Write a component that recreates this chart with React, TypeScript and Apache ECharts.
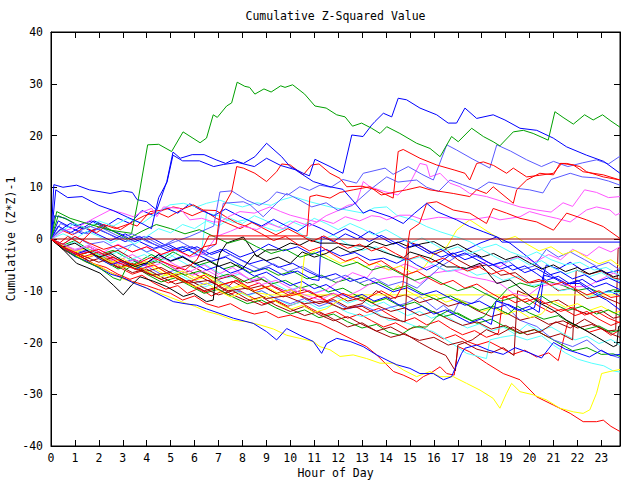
import React, { useEffect, useRef } from "react";
import * as echarts from "echarts";

const TITLE = "Cumulative Z-Squared Value";
const X_NAME = "Hour of Day";
const Y_NAME = "Cumulative (Z*Z)-1";
const X_MIN = 0;
const X_MAX = 23.78;
const Y_MIN = -40;
const Y_MAX = 40;

const RED = "#ff0000";
const GREEN = "#00a000";
const BLUE = "#0000ff";
const MAGENTA = "#ff55ff";
const CYAN = "#55ffff";
const YELLOW = "#ffff00";
const BLACK = "#000000";
const MAROON = "#a00000";
const LIGHTBLUE = "#5a5aff";

const g1 = [[0,0],[0.24,5.3],[0.8,4],[1.5,3],[2.47,1.7],[3.37,1.1],[3.64,7.5],[4.04,18.2],[4.5,18.3],[5.04,16.9],[5.52,20.7],[6.23,18.6],[6.5,19.5],[6.78,24],[6.95,23.5],[7.34,25.7],[7.55,26.3],[7.78,30.3],[8.1,29.5],[8.3,29.3],[8.52,28],[8.9,29],[9.2,28.4],[9.6,29.6],[9.78,29.3],[10.1,29.8],[10.6,28],[11.03,25.7],[11.5,25.3],[11.94,24],[12.29,23.6],[12.6,21.8],[12.98,22.4],[13.4,21.4],[13.75,20.4],[14.03,21.7],[14.58,20.4],[15.28,18.5],[15.84,17.5],[16.26,15.9],[16.74,19.8],[17.02,18.8],[17.58,21.4],[18.07,19.8],[18.48,18.8],[18.76,18],[19.32,20.7],[19.74,21],[20.15,20.4],[20.78,19.1],[21.06,24.6],[21.4,23.5],[21.83,22.2],[22.3,24],[22.66,23],[23.05,24],[23.4,22.8],[23.78,21.6]];
const g2 = [[0,0],[0.5,-1.2],[1,-0.3],[1.5,-1.8],[2,-3],[2.6,-2.2],[3.2,-3.7],[3.8,-5],[4.4,-4.2],[5,-5.7],[5.6,-7],[6.2,-6.2],[6.8,-7.6],[7.4,-6.8],[8,-8.3],[8.6,-7.2],[9.2,-8.7],[9.8,-8],[10.4,-9.5],[11,-8.7],[11.6,-10.2],[12.2,-9.5],[12.8,-11],[13.4,-12.3],[14,-11.5],[14.6,-13],[15.2,-12.2],[15.8,-13.7],[16.4,-15],[17,-14.3],[17.6,-15.8],[18.1,-15],[18.6,-12],[19.1,-9.5],[19.6,-8.5],[20.2,-9.3],[20.8,-8.2],[21.4,-9],[21.9,-10],[22.5,-9.5],[23,-10.5],[23.5,-9.8],[23.78,-10]];
const g3 = [[0,0],[0.5,-1.8],[1,-3.3],[1.6,-2.5],[2.2,-4.2],[2.8,-5.8],[3.4,-5],[4,-6.8],[4.6,-8.3],[5.2,-7.5],[5.8,-9],[6.4,-10.5],[7,-9.7],[7.6,-11.2],[8.2,-12.5],[8.8,-11.8],[9.4,-13.3],[10,-14.5],[10.6,-13.7],[11.2,-15.2],[11.8,-14.5],[12.4,-16],[13,-17.2],[13.6,-16.5],[14.1,-18],[14.58,-18.6],[15.14,-17],[15.7,-17],[16.12,-15],[16.67,-13.7],[17.2,-15],[17.8,-16.3],[18.4,-15.5],[19,-17],[19.6,-18.3],[20.2,-17.5],[20.8,-19],[21.3,-20.3],[21.8,-21.6],[22.4,-21],[23,-22.3],[23.5,-22.2],[23.78,-22.7]];
const g4 = [[0,0],[0.4,-1.5],[0.9,-3],[1.4,-4.3],[2,-5.5],[2.6,-7.5],[2.9,-8],[3.1,-6],[3.6,-4.5],[4.2,-3],[4.6,-4],[5.1,-2.5],[5.6,-3.7],[6.2,-5],[6.7,-4.3],[7.2,-5.8],[7.8,-5],[8.3,-6.5],[8.9,-5.6],[9.5,-7],[10.1,-6.2],[10.7,-7.7],[11.3,-7],[11.9,-8.4],[12.5,-7.6],[13.1,-9],[13.7,-8.3],[14.3,-9.8],[14.9,-9],[15.5,-10.5],[16.1,-11.7],[16.7,-11],[17.3,-12.5],[17.9,-13.8],[18.5,-13],[19.1,-14.5],[19.5,-13],[20,-14.3],[20.6,-15.5],[21.2,-14.8],[21.7,-16.2],[22.3,-17.5],[22.9,-16.8],[23.4,-18],[23.78,-17.6]];
const g5 = [[0,0],[0.3,4.5],[0.8,3.5],[1.4,2],[2,3],[2.6,1.5],[3.2,0],[3.8,1.5],[4.4,2.8],[5,2],[5.6,1],[6.2,1.8],[6.8,0.5],[7.4,-0.8],[8,0],[8.6,-1.5],[9.2,-2.8],[9.8,-2],[10.4,-3.5],[11,-2.7],[11.6,-4],[12.2,-5.3],[12.8,-4.5],[13.4,-6],[14,-5.2],[14.6,-6.7],[15.2,-8],[15.8,-7.2],[16.4,-8.7],[17,-10],[17.6,-9.2],[18.2,-10.7],[18.8,-12],[19.4,-11.2],[20,-12.7],[20.5,-11],[21,-12.5],[21.6,-13.8],[22.2,-13],[22.8,-14.5],[23.3,-13.7],[23.78,-14.8]];

const b1 = [[0,0],[0.12,10.5],[0.5,10],[1.07,10.4],[1.6,9.5],[2.47,8.8],[3,9.3],[3.4,9],[3.6,7.6],[4,7.2],[4.42,5.6],[4.84,11.1],[5.1,16.8],[5.4,15.6],[5.9,16.3],[6.4,16.3],[6.9,15.3],[7.3,14.6],[7.6,15.3],[8.04,14.6],[8.52,15.9],[9.01,18.5],[9.64,15.9],[9.99,14],[10.54,12.7],[10.8,12.2],[11.03,15.4],[11.66,14],[12.2,12.7],[12.57,20.1],[13.04,19.8],[13.4,22],[13.54,22.7],[13.89,24.3],[14.24,23.6],[14.51,27.2],[14.86,26.9],[15.42,25.3],[16.12,24],[16.6,22.4],[16.95,22.4],[17.3,25.3],[17.79,23.3],[18.48,24],[18.97,23],[19.6,21.4],[20.3,21],[20.99,19.5],[21.55,17.8],[22.38,16.2],[23.1,15],[23.78,12.7]];
const b2 = [[0,0],[0.2,9.5],[0.7,8],[1.3,8.2],[2,6.5],[2.6,5.5],[3.2,4.2],[3.8,3],[4.2,2],[4.5,8],[4.85,11],[5.1,16.2],[5.5,15.1],[6.2,15.1],[6.8,14],[7.2,14.4],[7.8,14.8],[8.5,14],[9.01,15.6],[9.6,14.2],[10.2,13.4],[10.96,11.1],[11.66,10.1],[12.2,9.6],[12.6,7.5],[13.05,5],[13.33,5.6],[14.17,4.3],[14.72,3],[15.2,5],[15.7,6.9],[16.12,5.3],[16.95,3.7],[17.5,2.4],[18.07,1.4],[18.63,0.4],[18.85,-0.6],[23.78,-0.6]];
const b3 = [[0,0],[0.3,2.5],[0.8,1.2],[1.3,2.4],[1.9,1],[2.5,-0.3],[3.1,1],[3.7,-0.5],[4.3,-1.8],[4.9,-1],[5.5,-2.5],[6.1,-1.5],[6.7,-3],[7.3,-2],[7.9,-3.5],[8.5,-2.5],[9.1,-1],[9.7,-2.3],[10.3,-1.5],[10.9,-3],[11.5,-2],[12.1,-3.3],[12.7,-2.6],[13.33,-4.1],[13.9,-3.7],[14.45,-4.7],[14.86,-3.7],[15.28,-5],[15.7,-6],[16.12,-5],[16.7,-3],[17.3,-2.2],[17.93,-0.8],[18.63,0.4],[19.18,-0.8],[19.74,-2.8],[20.43,-5.4],[21,-7.3],[21.55,-8.6],[22.1,-8.6],[22.66,-10.5],[23.22,-11.8],[23.78,-13.7]];
const b4 = [[0,0],[0.5,-1.5],[1,-3],[1.5,-2.2],[2,-3.8],[2.5,-5],[3,-4.2],[3.5,-5.8],[4,-4.8],[4.5,-3],[5,-4.2],[5.5,-3.3],[6,-4.8],[6.5,-6],[7,-5.2],[7.5,-6.6],[8,-5.8],[8.5,-7.2],[9,-6.4],[9.5,-7.8],[10,-9],[10.5,-8.2],[11,-9.6],[11.5,-8.8],[12,-10.2],[12.5,-11.5],[13,-10.7],[13.5,-12],[14,-11.2],[14.5,-12.6],[15,-13.8],[15.5,-13],[16,-14.5],[16.5,-13.7],[17,-15],[17.5,-16.2],[18,-15.4],[18.4,-16.5],[18.6,-12],[19,-12.5],[19.5,-13.8],[20,-13],[20.4,-14.2],[20.6,-7],[21,-7.5],[21.5,-8.8],[22,-8],[22.5,-9.5],[22.9,-10.8],[23.3,-10],[23.78,-11]];
const b5 = [[0,0],[0.3,3.5],[0.8,2.3],[1.3,1],[1.9,2],[2.5,0.8],[3.1,-0.5],[3.7,0.5],[4.3,-1],[4.9,-2.3],[5.5,-1.5],[6.1,-3],[6.7,-4.3],[7.3,-3.5],[7.9,-5],[8.5,-6.3],[9.1,-5.5],[9.7,-7],[10.3,-6.2],[10.9,-7.8],[11.2,-8],[11.3,0.5],[11.8,-0.5],[12.3,1],[12.8,0],[13.3,1.5],[13.8,0.3],[14.3,-1],[14.8,-0.2],[15.3,-1.5],[15.8,-2.8],[16.3,-2],[16.8,-3.5],[17.3,-2.7],[17.8,-4],[18.3,-5.2],[18.8,-4.5],[19.3,-6],[19.8,-5.2],[20.3,-6.7],[20.7,-8],[21.2,-7.2],[21.7,-8.7],[22.2,-7.8],[22.7,-9.3],[23.2,-8.5],[23.78,-9.8]];
const b6 = [[0,0],[0.15,4.5],[0.6,4],[1.1,2.6],[1.7,3.5],[2.3,2],[2.9,1],[3.5,-0.5],[4.1,0.5],[4.7,-1],[5.3,-2.3],[5.9,-1.5],[6.5,-3],[7.1,-2],[7.7,-3.5],[8.3,-4.8],[8.9,-4],[9.5,-5.5],[10.1,-4.7],[10.7,-6.2],[11.3,-7.5],[11.9,-6.7],[12.5,-8.2],[13.1,-7.4],[13.7,-8.8],[14.3,-10.2],[14.9,-9.4],[15.5,-10.8],[16.1,-10],[16.7,-11.5],[17.3,-12.8],[17.9,-12],[18.5,-13.5],[19.1,-12.6],[19.7,-14],[20.2,-13.3],[20.7,-5],[21.2,-5.8],[21.7,-4.5],[22.2,-6],[22.7,-5.3],[23.2,-6.6],[23.78,-6]];
const b7 = [[0,0],[0.3,1.5],[0.8,3],[1.3,2],[1.8,3.5],[2.3,2.5],[2.8,4],[3.3,3],[3.8,5.5],[4.3,4.5],[4.8,6],[5.3,5],[5.8,6.8],[6.3,5.5],[6.8,4.5],[7.3,5.8],[7.8,4.6],[8.3,3.5],[8.8,2.5],[9.3,3.8],[9.8,2.6],[10.3,1.5],[10.8,3],[11.3,2],[11.8,0.8],[12.3,2],[12.8,0.8],[13.3,-0.5],[13.8,0.7],[14.3,-0.5],[14.8,-1.8],[15.3,-1],[15.8,-2.3],[16.3,-3.5],[16.8,-2.7],[17.3,-4],[17.8,-3.2],[18.3,-4.6],[18.8,-5.8],[19.3,-5],[19.8,-6.5],[20.3,-5.7],[20.8,-7],[21.3,-6.3],[21.8,-7.7],[22.3,-6.9],[22.8,-8.3],[23.3,-7.5],[23.78,-8.5]];
const bLow = [[0,0],[0.5,-1.8],[1,-3.4],[1.5,-4.3],[2,-5.6],[2.5,-6.8],[3,-7.5],[3.5,-8.6],[4,-9.5],[4.42,-10.5],[5.11,-12.1],[5.6,-12.5],[6.09,-12.8],[6.5,-13.5],[7.06,-14.4],[7.62,-15.3],[8.45,-16.3],[9.01,-17.9],[9.43,-19.5],[9.85,-17.3],[10.4,-18.6],[10.96,-19.8],[11.31,-22.1],[11.52,-20.2],[11.94,-19.2],[12.5,-19.8],[13.05,-20.8],[13.61,-22.4],[14.17,-23.7],[14.45,-24.3],[15,-25],[15.42,-26],[15.98,-26],[16.4,-27.2],[16.74,-26.6],[17.16,-22.1],[17.3,-21.1],[17.79,-20.5],[18.3,-21.5],[18.9,-22.3],[19.4,-21],[20,-22],[20.5,-23],[21,-20],[21.5,-21.3],[22,-22],[22.5,-22.8],[23,-21.5],[23.4,-22.5],[23.78,-22.3]];

const r1 = [[0,0],[0.5,-1],[1,0.5],[1.6,-0.8],[2.2,-2],[2.8,-1.2],[3.4,-2.5],[4,-1.5],[4.6,-3],[5.2,-2],[5.8,-3.3],[6.4,-1.5],[6.9,-1],[7.06,5],[7.55,9.1],[7.76,14],[8.04,13.7],[8.52,12.7],[9.01,11.1],[9.43,13],[9.64,14.5],[10,14.3],[10.54,12.4],[10.89,14.3],[11.2,14.5],[11.66,12.7],[12.08,11.7],[12.36,10.1],[13,10.2],[13.6,9.5],[13.9,8.8],[14.3,7.9],[14.51,16.9],[14.72,17.3],[15.42,15.6],[16.12,14.3],[16.88,13.3],[17.3,12.7],[17.5,11.4],[17.79,14.6],[18.07,14.9],[18.5,14.2],[19.04,12.7],[19.32,13.7],[19.88,12],[20.4,12.3],[21,12.7],[21.34,14.6],[21.83,14.3],[22.24,13],[23.08,12.4],[23.78,11.4]];
const r2 = [[0,0],[0.5,-1.5],[1.2,-3],[2,-2],[2.8,-4],[3.5,-5],[4.2,-3.5],[5,-5],[5.6,-6],[6.1,-4],[6.6,0.6],[10.7,0.6],[10.82,8.2],[11.1,8.5],[11.66,7.9],[12.08,9],[12.63,9.5],[13.33,10.1],[13.8,8.5],[14.3,9],[14.86,9.5],[15.42,10.1],[15.84,9.5],[16.81,8.8],[17.5,8.2],[17.79,9.5],[18.2,8.8],[18.48,10.1],[19.32,6.9],[19.46,9.5],[19.88,11.4],[20.43,12.7],[21,12.4],[21.27,14.6],[21.55,14.6],[22.1,14],[22.38,13],[23.08,12],[23.78,11.4]];
const r3 = [[0,0],[0.6,-2],[1.3,-3.5],[2,-2.5],[2.8,-4.5],[3.6,-6],[4.3,-5],[5,-7],[5.7,-8.5],[6.4,-7],[7,-9],[7.8,-8],[8.5,-10],[9.2,-9],[10,-11],[10.8,-10],[11.5,-12],[12.2,-10.5],[13,-12],[13.8,-10],[14.4,-11.5],[14.7,-9],[14.86,-2.5],[15,1.7],[15.4,3],[15.7,6.9],[16.12,7.2],[16.81,5.6],[17.5,5],[18.2,3],[18.48,5.9],[19.04,5],[19.6,4],[20.3,3.3],[21,1.7],[21.55,5],[22.38,3.7],[23.08,2.4],[23.78,0.1]];
const r4 = [[0,0],[0.4,-1.2],[0.9,-2.5],[1.4,-3.8],[1.9,-3],[2.4,-4.3],[2.9,-5.6],[3.4,-6.8],[3.9,-6],[4.4,-7.3],[4.9,-8.5],[5.4,-7.7],[5.9,-9],[6.4,-10.3],[6.9,-9.5],[7.4,-10.8],[7.9,-10],[8.4,-11.3],[8.9,-12.5],[9.4,-11.8],[9.9,-13],[10.4,-12.2],[10.9,-13.5],[11.4,-14.7],[11.9,-14],[12.4,-15.3],[12.9,-14.5],[13.4,-15.8],[13.9,-17],[14.4,-16.2],[14.9,-17.5],[15.4,-16.8],[15.9,-18],[16.4,-19.3],[16.9,-18.5],[17.4,-19.8],[17.8,-20.5],[18.3,-19.8],[18.8,-21],[19.3,-22.3],[19.8,-21.5],[20.3,-22.8],[20.8,-22],[21.2,-23.5],[21.6,-16],[22,-16.8],[22.5,-18],[23,-17.3],[23.4,-18.6],[23.78,-17.6]];
const r5 = [[0,0],[0.3,-1],[0.7,0.5],[1.2,-0.8],[1.7,1.5],[2.2,2.8],[2.7,2],[3.3,3],[3.6,2.5],[4.14,5.3],[4.7,5.6],[5.11,6.2],[5.5,5.8],[5.95,6.6],[6.36,5.6],[6.9,5.5],[7.3,4.3],[7.8,3],[8.3,2.2],[8.8,1],[9.3,-0.3],[9.8,0.5],[10.3,-1],[10.8,-2.3],[11.3,-1.5],[11.8,-3],[12.3,-4.3],[12.8,-3.5],[13.3,-5],[13.8,-4.2],[14.3,-5.7],[14.8,-7],[15.3,-6.2],[15.8,-7.6],[16.3,-8.8],[16.8,-8],[17.3,-9.5],[17.8,-8.7],[18.3,-10.2],[18.8,-11.5],[19.3,-10.7],[19.8,-12.2],[20.3,-11.4],[20.8,-12.8],[21.3,-14],[21.8,-13.2],[22.3,-14.7],[22.8,-14],[23.3,-15.3],[23.78,-16.2]];
const r6 = [[0,0],[0.4,-1.5],[0.8,-2.8],[1.3,-3.5],[1.8,-4.8],[2.3,-5.5],[2.8,-6.8],[3.3,-7.8],[3.8,-7],[4.3,-8.5],[4.8,-9.7],[5.3,-9],[5.7,-10.5],[6.2,-9.5],[6.7,-11],[7.2,-10],[7.7,-8],[8.2,-9.3],[8.7,-8.5],[9.2,-10],[9.7,-11.2],[10.2,-10.4],[10.7,-11.8],[11.2,-11],[11.7,-12.4],[12.2,-13.7],[12.7,-13],[13.2,-14.2],[13.7,-13.4],[14.2,-14.8],[14.7,-16],[15.2,-15.2],[15.7,-16.6],[16.2,-15.8],[16.7,-17.3],[17.2,-18.5],[17.7,-17.7],[18.2,-19],[18.7,-18.2],[18.9,-11],[19.4,-12.3],[19.9,-11.5],[20.4,-13],[20.9,-14.2],[21.4,-13.5],[21.9,-14.8],[22.4,-14],[22.9,-15.5],[23.4,-16.7],[23.78,-16]];
const r7 = [[0,0],[0.4,1.8],[0.9,0.8],[1.4,2.3],[1.9,1.2],[2.4,2.8],[2.9,1.8],[3.4,3.3],[3.9,4.5],[4.4,5.2],[4.9,4.2],[5.4,5.5],[5.9,4.5],[6.4,5.5],[6.9,4],[7.4,3],[7.9,2],[8.4,3.2],[8.9,2],[9.4,0.8],[9.9,2],[10.4,0.8],[10.9,-0.5],[11.4,0.6],[11.9,-0.6],[12.4,-1.8],[12.9,-1],[13.4,-2.3],[13.9,-1.5],[14.4,-2.8],[14.9,-4],[15.4,-3.2],[15.9,-4.5],[16.4,-3.7],[16.9,-5],[17.4,-6.2],[17.9,-5.4],[18.4,-6.8],[18.9,-6],[19.4,-7.3],[19.9,-8.5],[20.4,-7.8],[20.9,-9],[21.4,-8.3],[21.9,-9.6],[22.4,-10.8],[22.9,-10],[23.4,-11.3],[23.78,-11]];
const rLow = [[0,0],[0.5,-1.5],[1,-3],[1.5,-4.5],[2,-5.3],[2.5,-6.5],[3,-7.5],[3.4,-8.2],[4,-9],[4.5,-9.8],[5,-10.5],[5.5,-11.8],[6,-11],[6.5,-12.5],[7,-13.2],[7.5,-12.5],[8,-13.8],[8.5,-14.5],[9,-14],[9.5,-15.2],[10,-14.7],[10.5,-15.5],[11.24,-16.3],[11.8,-17.6],[12.63,-19.5],[13.19,-20.8],[13.61,-22.4],[14.03,-24.3],[14.31,-25.6],[14.72,-26.3],[15.14,-27.2],[15.28,-27.6],[15.56,-26.6],[15.84,-26],[16.26,-24.7],[16.54,-26],[16.85,-26.3],[17.02,-20.8],[17.5,-21.8],[18.2,-24],[18.9,-26],[19.6,-27.2],[20.3,-30.5],[21,-32.1],[21.7,-33.7],[22.24,-35.3],[22.8,-35.3],[23.08,-35],[23.4,-36.2],[23.78,-37.2]];

const lb1 = [[0,0],[0.5,-1],[1,0.5],[1.6,-1],[2.2,-0.5],[2.8,-2],[3.4,-1],[4,-2.5],[4.6,-1.5],[5.2,-0.5],[5.8,0.5],[6.3,1.5],[6.8,2.5],[7.06,9.1],[7.55,9.3],[8.18,7.5],[8.7,6.5],[9.1,7.5],[9.43,9.1],[9.9,8.5],[10.4,10.1],[10.8,9.4],[11.24,10.4],[11.7,10],[12.2,11.5],[12.77,10.8],[13.05,12.7],[13.33,13],[13.96,13.7],[14.3,12.5],[14.93,14],[15.5,12.5],[15.98,11.4],[16.54,18.2],[16.95,17.2],[17.6,15.5],[18.34,13.7],[18.63,18.2],[19.2,17],[19.88,15.3],[20.5,14],[21,15],[21.6,14],[22.2,14.7],[22.8,15.3],[23.3,14.5],[23.78,16]];
const lb2 = [[0,0],[0.4,2],[1,1],[1.6,2.5],[2.2,1.5],[2.8,0],[3.4,1],[4,-0.5],[4.6,-1.5],[5.2,0],[5.8,-1.5],[6.4,-2.5],[6.9,-1],[7.2,6.9],[8.04,7.2],[8.32,6.6],[8.87,4.3],[9.43,6.9],[9.85,8.8],[10.4,7.5],[10.9,6.2],[11.5,7],[12,5.5],[12.6,6.5],[13.33,9.5],[14.03,12],[14.5,11],[15.28,11.4],[15.7,10],[16.2,9.2],[16.67,11.4],[17.2,10.5],[17.8,9.5],[18.3,11],[18.8,10.5],[19.46,9.8],[20,9.5],[20.56,8.9],[20.9,11.5],[21.7,12.7],[22.2,12],[22.8,11.8],[23.3,11.2],[23.78,10.4]];
const lb3 = [[0,0],[0.5,-1.3],[1,-2.7],[1.6,-2],[2.2,-3.5],[2.8,-4.8],[3.4,-4],[4,-5.3],[4.6,-6.8],[5.2,-6],[5.8,-7.5],[6.4,-8.8],[7,-8],[7.6,-9.5],[8.2,-10.8],[8.8,-10],[9.4,-11.5],[10,-12.5],[10.6,-11.5],[11.2,-13],[11.8,-12],[12.4,-13.5],[13,-12.8],[13.6,-14],[14.2,-13.2],[14.86,-12.4],[15.42,-11.1],[16.12,-13.7],[16.4,-12.8],[16.81,-14.4],[17.1,-11.8],[17.6,-12.5],[18.2,-10.5],[19.04,-13.1],[19.6,-15.7],[20.3,-16.9],[21,-19.5],[21.8,-20.8],[22.4,-19.5],[22.9,-21.4],[23.36,-22.4],[23.78,-23]];
const lb4 = [[0,0],[0.4,3],[0.9,2],[1.5,1],[2.1,2.2],[2.7,0.8],[3.3,-0.5],[3.9,0.5],[4.5,-1],[5.1,-2.3],[5.7,-1.3],[6.3,-2.8],[6.9,-4],[7.5,-3],[8.1,-4.5],[8.7,-5.8],[9.3,-4.8],[9.9,-6.3],[10.5,-5.3],[11.1,-6.8],[11.7,-8],[12.3,-7],[12.9,-8.5],[13.5,-7.5],[14.1,-9],[14.7,-8.2],[15.3,-9.5],[15.9,-7],[16.26,-5.4],[16.95,-3.4],[17.5,-2.8],[17.93,-3.7],[18.5,-5],[19.1,-4.2],[19.6,-6],[20.2,-5.2],[20.7,-2],[21.2,-3.5],[21.7,-2.5],[22.3,-4],[22.8,-5.3],[23.3,-4.5],[23.78,-6]];

const p1 = [[0,0],[0.5,1.5],[1.2,2.5],[1.8,4],[2.47,5.6],[3,5],[3.44,4.3],[3.8,5.2],[4.21,5.9],[4.42,4.3],[4.7,6.2],[5.39,5.9],[5.8,3.7],[6.3,4],[6.78,3.3],[7.06,3.3],[7.5,4.5],[7.9,5.3],[8.5,5],[9.15,6.2],[9.6,5.3],[10,4.6],[10.5,4],[11.1,3.3],[11.5,4.5],[12,5.5],[12.4,6.5],[12.77,6.9],[13.05,11.1],[13.33,10.1],[13.9,9.2],[14.5,8.5],[15,10.8],[15.42,14.6],[15.7,14.3],[15.84,12],[16.26,12.7],[16.67,10.8],[17.09,10.1],[17.5,8.8],[18.2,8.2],[18.9,7.2],[19.6,6.2],[20.3,5.6],[20.9,5.2],[21.4,7],[21.8,6.3],[22.3,9.5],[22.8,9],[23.3,8],[23.78,8.2]];
const p2 = [[0,0],[0.5,-1],[1,-2],[1.6,-1.2],[2.2,-2.5],[2.8,-1],[3.4,-2.5],[4,-1.5],[4.6,-3],[5.2,-2],[5.8,-3.5],[6.4,-2.8],[6.92,0.5],[7.5,1.5],[8,2.5],[8.6,1.8],[9.1,3],[9.7,2],[10.2,3.5],[10.8,2.5],[11.3,3.7],[11.8,3],[12.3,4.3],[12.9,3.5],[13.4,4.5],[13.75,4.3],[14.03,3.7],[14.58,4.6],[15,4.6],[15.56,3.7],[16.2,4.2],[16.81,4],[17.5,3.7],[18.34,4.3],[18.76,3.7],[19.6,4.3],[20,5.3],[20.56,4.6],[21.13,4],[21.7,3.3],[22.38,5.6],[22.8,6.2],[23.36,5.6],[23.6,4.6],[23.78,5]];
const p3 = [[0,0],[0.5,-1.2],[1,-2.3],[1.6,-1.5],[2.2,-3],[2.8,-4.2],[3.4,-3],[4,-4.5],[4.6,-3.5],[5.2,-5],[5.8,-6.3],[6.4,-5],[7,-6.8],[7.6,-5.5],[8.2,-7.5],[8.8,-8.8],[9.4,-8],[10,-9.5],[10.6,-10.8],[11.24,-11.8],[11.8,-10.5],[12.36,-11.1],[12.91,-9.9],[13.61,-7.9],[14.31,-7.3],[14.86,-7.3],[15.42,-8.6],[15.98,-6.6],[16.81,-6],[17.5,-7.3],[18.2,-7.9],[18.76,-8.6],[19.32,-10.5],[19.88,-11.1],[20.43,-9.2],[21,-8.6],[21.83,-9.2],[22.38,-9.2],[22.94,-7.9],[23.5,-6.6],[23.78,-7]];
const p4 = [[0,0],[0.5,-1.5],[1.1,-3],[1.7,-2],[2.3,-3.5],[2.9,-5],[3.5,-4],[4.1,-5.5],[4.7,-4.5],[5.3,-6],[5.9,-7],[6.5,-6],[7.1,-7.5],[7.8,-6.5],[8.4,-8],[8.9,-7.3],[9.4,-9.5],[9.9,-10.3],[10.4,-9.3],[11,-10.5],[11.5,-9.8],[12.1,-8],[12.6,-6.5],[13.2,-7.5],[13.6,-5.2],[14.2,-6],[14.8,-4.8],[15.4,-6],[16,-5],[16.54,-6.3],[17.5,-5.7],[18.2,-4.4],[18.76,-5.4],[19.32,-3.7],[19.74,-3.4],[20.2,-4.5],[20.8,-3],[21.3,-4],[21.8,-2],[22.4,-3.3],[22.9,-1.5],[23.4,-2.5],[23.78,-1.5]];

const c1 = [[0,0],[0.4,1.5],[1,3],[1.5,2],[2,3.5],[2.6,2.5],[3.2,4],[3.8,3],[4.4,5],[4.97,6.6],[5.53,6.9],[6.09,6.2],[6.5,6.9],[7.06,7.5],[7.5,6.8],[8,6.2],[8.6,7],[9.2,6.5],[9.6,7.5],[10.13,8.2],[10.82,7.2],[11.66,6.2],[12.36,5.6],[13.05,5],[13.5,6],[14.03,6.2],[14.45,4.6],[15.14,3.7],[15.7,2.4],[16.26,1.4],[16.95,0.4],[17.5,-0.5],[18,-1.8],[18.6,-1],[19.2,-2.5],[19.8,-3.5],[20.3,-2.5],[20.9,-4],[21.5,-5],[22.1,-4.5],[22.7,-6],[23.2,-5.5],[23.78,-7]];
const c2 = [[0,0],[0.5,-1.5],[1,-0.5],[1.5,-2],[2.2,-3.5],[2.8,-2.5],[3.3,-4],[3.9,-3],[4.4,-4.5],[5,-3.5],[5.5,-1.5],[6,-3],[6.3,-2],[6.5,5],[7,4.5],[7.6,3.2],[8.2,3.8],[8.8,2.5],[9.4,1.5],[10,2.3],[10.6,0.5],[11.2,-0.5],[11.8,0.8],[12.4,-1],[13,-2.2],[13.6,-1.5],[14.2,-3],[14.8,-4.2],[15.4,-3.5],[16,-5],[16.6,-6.3],[17.2,-5.5],[17.8,-7],[18.3,-6.5],[18.9,-8],[19.5,-7.2],[20.1,-9],[20.7,-8.5],[21.3,-10],[21.9,-9.5],[22.5,-11.2],[23.1,-10.3],[23.78,-10.3]];
const c3 = [[0,0],[0.5,-1.8],[1,-3.2],[1.6,-2.5],[2.2,-4],[2.8,-5.5],[3.4,-4.5],[4,-6],[4.6,-7.3],[5.2,-6.5],[5.8,-8],[6.4,-9.3],[7,-8.3],[7.6,-9.8],[8.2,-11],[8.8,-10],[9.4,-11.5],[10,-12.8],[10.6,-12],[11.2,-13.5],[11.8,-12.7],[12.4,-14.2],[13,-15],[13.6,-14.2],[14.1,-15.7],[14.58,-15.7],[15.3,-17],[15.98,-17.9],[16.7,-20],[17.37,-22.1],[18.2,-23.1],[18.34,-19.5],[18.8,-19],[19.32,-18.6],[19.9,-19.5],[20.5,-18.7],[21,-20.5],[21.5,-22],[22,-23.2],[22.6,-24],[23.1,-24.5],[23.5,-25.5],[23.78,-25.7]];
const c4 = [[0,0],[0.4,-1],[0.9,-2.3],[1.4,-1.5],[1.9,-3],[2.4,-4.2],[2.9,-3.5],[3.4,-1],[3.9,-2.3],[4.4,-3.6],[4.9,-2.8],[5.4,-4.2],[5.9,-5.5],[6.4,-4.8],[6.9,-6.2],[7.4,-7.5],[7.9,-6.7],[8.4,-8.2],[8.9,-7.4],[9.4,-8.8],[9.9,-10],[10.4,-9.2],[10.9,-10.6],[11.4,-9.8],[11.9,-11.2],[12.4,-12.4],[12.9,-11.6],[13.4,-13],[13.9,-12.2],[14.4,-13.6],[14.9,-14.8],[15.4,-14],[15.9,-15.3],[16.4,-14.5],[16.9,-16],[17.4,-17.2],[17.9,-16.4],[18.4,-17.8],[18.9,-17],[19.4,-18.4],[19.9,-16.5],[20.4,-17.7],[20.9,-17],[21.4,-18.3],[21.9,-19.5],[22.4,-18.8],[22.9,-20.2],[23.4,-19.4],[23.78,-20.5]];
const c5 = [[0,0],[0.5,1],[1,0],[1.5,1.5],[2,0.5],[2.5,-0.8],[3,0.3],[3.5,-1],[4,0.5],[4.5,2],[5,1.2],[5.5,2.8],[6,2],[6.5,3.5],[7,2.5],[7.5,4],[8,3],[8.5,4.5],[9,3.5],[9.5,2.3],[10,3.5],[10.5,2.5],[11,4],[11.5,3],[12,1.8],[12.5,3],[13,2],[13.5,0.8],[14,1.8],[14.5,0.5],[15,-0.8],[15.5,0.2],[16,-1],[16.5,-2.3],[17,-1.5],[17.5,-2.8],[18,-2],[18.5,-3.3],[19,-4.5],[19.5,-3.7],[20,-5],[20.5,-4.2],[21,-5.6],[21.5,-6.8],[22,-6],[22.5,-7.3],[23,-6.5],[23.5,-7.8],[23.78,-8]];

const k1 = [[0,0],[0.5,-2],[1.07,-4.7],[1.5,-5.5],[2.05,-6.6],[2.6,-8.9],[3.02,-10.8],[3.37,-8.9],[3.72,-7.3],[4.3,-8.2],[4.84,-9.2],[5.53,-11.1],[5.95,-10.5],[6.5,-12.1],[6.78,-11.8],[6.92,-5.4],[7.06,-2.8],[7.34,-0.8],[8.04,0.4],[8.6,-3.4],[9.01,-2.1],[9.43,-2.1],[10,-0.8],[10.4,-1.2],[10.82,-0.2],[11.24,-0.8],[11.94,-0.8],[12.5,-1.2],[13.33,-1.5],[13.89,-2.5],[14.45,-3.4],[14.72,-3.7],[15,-2.5],[15.84,-3.7],[16.54,-5.4],[16.95,-5.4],[17.37,-5.7],[17.93,-4.7],[18.63,-8.6],[19.18,-7.9],[19.88,-10.5],[20.43,-12.4],[21,-13.8],[21.55,-15.7],[22.2,-17.3],[22.8,-18.9],[23.5,-20.8],[23.65,-20.5],[23.72,-16.9],[23.78,-16.8]];
const k2 = [[0,0],[0.5,-1.5],[1,-0.8],[1.5,-2.2],[2,-3.5],[2.5,-2.8],[3,-4.2],[3.5,-5.3],[4,-4.6],[4.5,-3],[5,-4.3],[5.5,-3.5],[6,-4.8],[6.5,-4],[7,-5.3],[7.5,-4.5],[8,-5.8],[8.5,-3],[9,-4.2],[9.5,-3.5],[10,-4.7],[10.5,-2.5],[11,-3.5],[11.5,-2.8],[12,-1.5],[12.5,-2.6],[13,-2],[13.5,-0.5],[14,-1.3],[14.5,-0.6],[15,-1.6],[15.5,-0.9],[16,-0.5],[16.5,-1.8],[17,-1],[17.5,-2.3],[18,-3.5],[18.5,-2.8],[19,-4],[19.5,-3.3],[20,-4.6],[20.5,-5.8],[21,-5],[21.5,-6.3],[22,-5.5],[22.5,-6.8],[23,-6],[23.5,-7.3],[23.78,-7]];

const m0 = [[0,0],[23.78,0]];
const m1 = [[0,0],[0.5,-1.5],[1.2,-3],[2,-4.5],[2.6,-3.5],[3.4,-5.5],[4.2,-7],[5,-6.5],[5.8,-8.5],[6.6,-8],[7.4,-10],[8.2,-9.5],[9,-11.5],[9.8,-11],[10.6,-12.5],[11.4,-12],[12.2,-13.5],[13,-13],[13.8,-15],[14.8,-16],[14.95,-0.5],[15.5,-1.5],[16,-3],[16.5,-2],[17,-4],[17.6,-5.5],[18.2,-5],[18.8,-7],[19.4,-6.5],[20,-8.5],[20.6,-8],[21.2,-10],[21.8,-9.5],[22.4,-11.5],[23,-11],[23.78,-12.5]];
const m2 = [[0,0],[0.5,-1.5],[1,-3],[1.6,-2.2],[2.2,-4],[2.8,-5.5],[3.4,-4.8],[4,-6.5],[4.6,-7.8],[5.2,-7],[5.8,-8.6],[6.4,-10],[7,-9.2],[7.6,-10.8],[8.2,-12],[8.8,-11.2],[9.4,-12.8],[10,-14],[10.6,-13],[11.2,-14.6],[11.8,-15.8],[12.4,-15],[13,-16.5],[13.6,-17.8],[14.2,-17],[14.8,-18.5],[15.4,-19.6],[16,-19],[16.6,-20.5],[17.2,-19.8],[17.8,-21.3],[18.4,-22],[18.9,-21],[19.35,-22.5],[19.5,-10],[20,-11],[20.6,-12.5],[21.2,-11.8],[21.8,-13.5],[22.4,-14.5],[23,-13.8],[23.5,-15.3],[23.78,-15]];
const m3 = [[0,0],[0.4,-1.5],[1,-2.8],[1.6,-4.3],[2.2,-3.5],[2.8,-5],[3.4,-6.5],[4,-5.8],[4.6,-7.3],[5.2,-8.7],[5.8,-8],[6.4,-9.5],[7,-10.8],[7.6,-10],[8.2,-11.6],[8.8,-12.8],[9.4,-12],[10,-13.5],[10.6,-14.8],[11.2,-14],[11.8,-15.5],[12.4,-17],[13,-16.2],[13.6,-17.8],[14.2,-19],[14.8,-18.3],[15.4,-20],[16,-21.5],[16.5,-22.5],[16.9,-25.5],[17,-20.5],[17.6,-19.5],[18.2,-17.5],[18.7,-18.5],[19.3,-17],[19.9,-18.5],[20.5,-17.8],[21.1,-16],[21.7,-17.2],[22.3,-15.5],[22.9,-17],[23.5,-18.5],[23.78,-19]];
const m4 = [[0,0],[0.5,-1],[1,-2.3],[1.6,-1.5],[2.2,-3],[2.8,-2.2],[3.4,-3.8],[4,-5],[4.6,-4.2],[5.2,-5.8],[5.8,-5],[6.4,-6.5],[7,-7.8],[7.6,-7],[8.2,-8.5],[8.8,-7.8],[9.4,-9.3],[10,-10.5],[10.6,-9.8],[11.2,-11.2],[11.8,-10.5],[12.4,-12],[13,-11.3],[13.6,-12.8],[14.2,-14],[14.8,-13.3],[15.4,-14.8],[16,-14],[16.6,-15.5],[17.2,-16.7],[17.8,-16],[18.4,-17.4],[19,-16.7],[19.6,-18.2],[20.2,-17.5],[20.8,-19],[21.3,-18.3],[21.8,-19.5],[21.95,-6],[22.5,-6.8],[23,-6.2],[23.5,-7.5],[23.78,-7.8]];
const m5 = [[0,0],[0.5,-2],[1,-3.3],[1.6,-2.5],[2.2,-4],[2.8,-5.5],[3.4,-4.7],[4,-6.2],[4.6,-5.5],[5.2,-7],[5.8,-6.2],[6.4,-7.7],[7,-9],[7.6,-8.2],[8.2,-9.7],[8.8,-9],[9.4,-10.5],[10,-9.8],[10.6,-11.3],[11.2,-12.5],[11.8,-11.7],[12.4,-13.2],[13,-12.5],[13.6,-10],[14.2,-11.5],[14.8,-10.8],[15.4,-12.3],[16,-11.5],[16.6,-13],[17.2,-12.2],[17.8,-13.8],[18.4,-15],[19,-14.2],[19.6,-15.7],[20.2,-15],[20.8,-16.5],[21.4,-15.8],[22,-17.2],[22.6,-16.5],[23.2,-17.8],[23.6,-17.6],[23.7,-2],[23.78,-1.5]];

const y2 = [[0,0],[0.5,-1.3],[1,-2.5],[1.5,-1.8],[2,-3.2],[2.5,-4.5],[3,-3.8],[3.5,-5.2],[4,-4.3],[4.5,-5.7],[5,-7],[5.5,-6.2],[6,-7.5],[6.5,-6.8],[7,-8.2],[7.5,-9.5],[8,-8.8],[8.5,-10],[9,-9.2],[9.5,-10.5],[10,-9.8],[10.4,-11],[10.6,-3],[11.1,-2.2],[11.6,-3.5],[12.1,-4.7],[12.6,-4],[13.1,-5.4],[13.6,-4.6],[14.1,-6],[14.6,-5.2],[15.1,-6.6],[15.6,-5.4],[16.12,-2.1],[16.54,-1.5],[16.95,1.7],[17.5,3.7],[17.93,2.4],[18.4,1],[18.9,-0.3],[19.4,0.5],[19.9,-1],[20.4,-2.3],[20.9,-1.5],[21.4,-3],[21.9,-2.2],[22.4,-3.6],[22.9,-4.8],[23.4,-4],[23.78,-5.3]];
const y3 = [[0,0],[0.5,-1],[1,-2.3],[1.5,-3.5],[2,-2.8],[2.5,-4.2],[3,-5.5],[3.5,-4.8],[4,-6.2],[4.5,-7.4],[5,-6.6],[5.5,-8],[6,-9.3],[6.5,-8.5],[7,-10],[7.5,-11.2],[8,-10.4],[8.5,-11.8],[9,-11],[9.5,-12.4],[10,-13.6],[10.5,-12.8],[11,-14.2],[11.5,-13.5],[12,-12],[12.5,-11.2],[13,-11],[13.5,-12.3],[14,-11.5],[14.5,-9],[15,-10.3],[15.5,-11.5],[16,-10.8],[16.5,-12.2],[17,-11.5],[17.5,-12.8],[18,-14],[18.5,-13.3],[19,-14.6],[19.5,-13.8],[20,-15.2],[20.5,-14.5],[21,-12],[21.5,-13.2],[22,-12.5],[22.5,-13.8],[23,-13],[23.5,-14.3],[23.78,-14]];
const yLow = [[0,0],[0.5,-1.5],[1,-3],[1.5,-4.3],[2,-5.2],[2.5,-6.5],[3,-7.7],[3.5,-8.5],[4,-9.5],[4.5,-10.4],[5,-11.3],[5.5,-12.2],[6,-13],[6.5,-14],[7,-14.6],[7.62,-15.7],[8.2,-16],[8.73,-16.6],[9.3,-17.4],[9.85,-18.6],[10.4,-19.2],[10.96,-19.8],[11.24,-20.8],[11.66,-21.4],[12.08,-22.7],[12.63,-22.4],[13.19,-23.1],[13.75,-24],[14.31,-24],[14.72,-25.3],[15.28,-26.6],[15.84,-25.6],[16.26,-26.6],[16.81,-26.6],[17.37,-27.9],[17.93,-29.2],[18.48,-30.8],[18.76,-32.7],[19.04,-29.8],[19.25,-27.9],[19.6,-29.5],[20.15,-30.1],[20.71,-31.1],[21.27,-32.7],[21.83,-33.4],[22.24,-33.7],[22.52,-33],[22.8,-29.8],[23.01,-26],[23.36,-25.6],[23.78,-25.2]];
const yFlat = [[0,0],[0.5,-1.5],[1,-3],[1.5,-2.2],[2,-3.7],[2.5,-5],[3,-4.2],[3.5,-5.6],[4,-4.8],[4.5,-6.2],[5,-7.5],[5.5,-6.7],[6,-8],[6.5,-7.3],[7,-8.6],[7.5,-9.8],[8,-9],[8.5,-10.3],[9.15,-10.8],[23.78,-10.8]];

const LINES: { data: number[][]; color: string }[] = [
  { data: r6, color: RED }, { data: r4, color: RED }, { data: rLow, color: RED },
  { data: c4, color: CYAN }, { data: c3, color: CYAN }, { data: g3, color: GREEN },
  { data: lb3, color: LIGHTBLUE }, { data: m2, color: MAROON }, { data: m3, color: MAROON },
  { data: m4, color: MAROON }, { data: m5, color: MAROON }, { data: y3, color: YELLOW },
  { data: yLow, color: YELLOW }, { data: yFlat, color: YELLOW }, { data: bLow, color: BLUE },
  { data: g4, color: GREEN }, { data: g2, color: GREEN }, { data: p3, color: MAGENTA },
  { data: p4, color: MAGENTA }, { data: b4, color: BLUE }, { data: b6, color: BLUE },
  { data: lb4, color: LIGHTBLUE }, { data: m1, color: MAROON }, { data: y2, color: YELLOW },
  { data: c2, color: CYAN }, { data: b5, color: BLUE }, { data: b3, color: BLUE },
  { data: k2, color: BLACK }, { data: k1, color: BLACK }, { data: g5, color: GREEN },
  { data: c5, color: CYAN }, { data: r7, color: RED }, { data: b7, color: BLUE },
  { data: c1, color: CYAN }, { data: r5, color: RED }, { data: p2, color: MAGENTA },
  { data: r3, color: RED }, { data: p1, color: MAGENTA }, { data: lb2, color: LIGHTBLUE },
  { data: lb1, color: LIGHTBLUE }, { data: r2, color: RED }, { data: r1, color: RED },
  { data: b2, color: BLUE }, { data: m0, color: MAROON }, { data: b1, color: BLUE },
  { data: g1, color: GREEN },
];

const FONT = "'DejaVu Sans Mono', monospace";

export default function App() {
  const ref = useRef<HTMLDivElement>(null);
  useEffect(() => {
    if (!ref.current) return;
    const chart = echarts.init(ref.current, undefined, { renderer: "svg" });
    const tickCommon = { show: true, inside: true, length: 6, lineStyle: { color: "#000", width: 1 } };
    const lineCommon = { show: true, onZero: false, lineStyle: { color: "#000", width: 1 } };
    chart.setOption({
      animation: false,
      backgroundColor: "#ffffff",
      grid: { left: 51, right: 20, top: 32, bottom: 34, containLabel: false, outerBoundsMode: "none", show: true, borderColor: "#000", borderWidth: 1 },
      xAxis: [
        {
          type: "value", min: X_MIN, max: X_MAX, interval: 1, position: "bottom",
          axisLine: lineCommon,
          axisTick: tickCommon,
          splitLine: { show: false },
          axisLabel: {
            show: true, color: "#000", fontFamily: FONT, fontSize: 11.5, margin: 6,
            showMaxLabel: false,
            formatter: (v: number) => (Number.isInteger(v) ? String(v) : ""),
          },
        },
        {
          type: "value", min: X_MIN, max: X_MAX, interval: 1, position: "top",
          axisLine: lineCommon,
          axisTick: tickCommon, axisLabel: { show: false }, splitLine: { show: false },
        },
      ],
      yAxis: [
        {
          type: "value", min: Y_MIN, max: Y_MAX, interval: 10, position: "left",
          axisLine: lineCommon,
          axisTick: tickCommon, splitLine: { show: false },
          axisLabel: { show: true, color: "#000", fontFamily: FONT, fontSize: 11.5, margin: 8 },
        },
        {
          type: "value", min: Y_MIN, max: Y_MAX, interval: 10, position: "right",
          axisLine: lineCommon,
          axisTick: tickCommon, axisLabel: { show: false }, splitLine: { show: false },
        },
      ],
      graphic: [
        { type: "text", x: 335.5, y: 16, style: { text: TITLE, fill: "#000", font: `11.5px ${FONT}`, align: "center", verticalAlign: "middle" } },
        { type: "text", x: 335.5, y: 473, style: { text: X_NAME, fill: "#000", font: `11.5px ${FONT}`, align: "center", verticalAlign: "middle" } },
        { type: "text", x: 11, y: 239, rotation: Math.PI / 2, style: { text: Y_NAME, fill: "#000", font: `11.5px ${FONT}`, align: "center", verticalAlign: "middle" } },
      ],
      series: LINES.map((l) => ({
        type: "line",
        xAxisIndex: 0,
        yAxisIndex: 0,
        data: l.data,
        showSymbol: false,
        symbol: "none",
        silent: true,
        clip: true,
        lineStyle: { color: l.color, width: 1 },
        itemStyle: { color: l.color },
        emphasis: { disabled: true },
      })),
    });
    return () => chart.dispose();
  }, []);
  return (
    <div
      ref={ref}
      style={{ position: "fixed", left: 0, top: 0, width: 640, height: 480, background: "#fff" }}
    />
  );
}
